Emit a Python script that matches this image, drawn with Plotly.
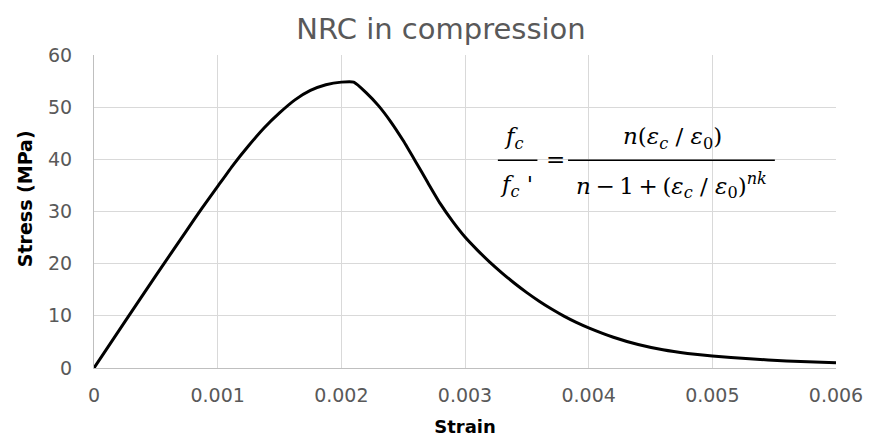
import plotly.graph_objects as go

# Data
strain = [0, 0.00025, 0.0005, 0.00075, 0.000875, 0.001, 0.001125, 0.00125, 0.001375,
          0.0015, 0.001625, 0.00175, 0.001875, 0.002, 0.0021, 0.0022, 0.0023,
          0.0024, 0.0025, 0.0026, 0.0027, 0.0028, 0.0029, 0.003, 0.0031, 0.0032,
          0.0033, 0.0034, 0.0035, 0.0036, 0.0037, 0.0038, 0.0039, 0.004, 0.0042,
          0.0044, 0.0046, 0.0048, 0.005, 0.0053, 0.0056, 0.006]
stress = [0, 8.9, 17.7, 26.4, 30.7, 34.8, 38.9, 42.6, 46.0,
          48.9, 51.4, 53.2, 54.3, 54.8, 54.8, 52.8, 50.3,
          47.2, 43.6, 39.6, 35.5, 31.5, 28.1, 25.1, 22.6, 20.3,
          18.2, 16.25, 14.45, 12.8, 11.3, 9.95, 8.75, 7.7, 5.9,
          4.5, 3.5, 2.8, 2.3, 1.75, 1.35, 1.0]

x_ticks = [0, 0.001, 0.002, 0.003, 0.004, 0.005, 0.006]
x_tick_labels = ["0", "0.001", "0.002", "0.003", "0.004", "0.005", "0.006"]
y_ticks = [0, 10, 20, 30, 40, 50, 60]

title_text = "NRC in compression"
x_title = "Strain"
y_title = "Stress (MPa)"

fig = go.Figure()
fig.add_trace(go.Scatter(
    x=strain, y=stress, mode="lines",
    line=dict(color="black", width=3, shape="spline", smoothing=0.4),
    hoverinfo="x+y", showlegend=False,
))

grid = "#d9d9d9"
FONT = "DejaVu Sans"
tick_font = dict(family=FONT, size=19, color="#595959")
fig.update_layout(
    width=875, height=446,
    margin=dict(l=94, r=32, t=55, b=78),
    paper_bgcolor="white", plot_bgcolor="white",
    title=dict(text=title_text, x=0.504, xref="container", xanchor="center",
               y=1 - 29 / 446, yref="container", yanchor="middle",
               font=dict(family=FONT, size=29, color="#595959")),
    xaxis=dict(range=[0, 0.006], tickvals=x_ticks, ticktext=x_tick_labels,
               showgrid=True, gridcolor=grid, gridwidth=1,
               showline=True, linecolor="#bfbfbf", linewidth=1, mirror=False,
               zeroline=False, tickfont=tick_font, ticks="", ticklabelstandoff=10,
               title=dict(text="<b>" + x_title + "</b>", standoff=15,
                          font=dict(family=FONT, size=18, color="black"))),
    yaxis=dict(range=[0, 60], tickvals=y_ticks,
               showgrid=True, gridcolor=grid, gridwidth=1,
               showline=True, linecolor="#bfbfbf", linewidth=1,
               zeroline=False, tickfont=tick_font, ticks="", ticklabelstandoff=17),
)

# y-axis title placed as a rotated annotation
fig.add_annotation(x=-0.0927, y=0.54, xref="paper", yref="paper",
                   text="<b>" + y_title + "</b>", textangle=-90, showarrow=False,
                   xanchor="center", yanchor="middle",
                   font=dict(family=FONT, size=19, color="black"))

# Formula (Popovics-type relation) drawn as text with fraction bars
ffont = dict(family="DejaVu Serif", size=23, color="black")
annots = [
    (0.566, 0.736, "<i>f</i><sub><i>c</i></sub>"),
    (0.569, 0.582, "<i>f</i><sub><i>c</i></sub> '"),
    (0.622, 0.668, "="),
    (0.780, 0.734, "<i>n</i>(<i>ε</i><sub><i>c</i></sub> / <i>ε</i><sub>0</sub>)"),
    (0.778, 0.582, "<i>n</i>\u2009−\u20091\u2009+\u2009(<i>ε</i><sub><i>c</i></sub> / <i>ε</i><sub>0</sub>)<sup><i>nk</i></sup>"),
]
for ax, ay, txt in annots:
    fig.add_annotation(x=ax, y=ay, xref="paper", yref="paper", text=txt,
                       showarrow=False, xanchor="center", yanchor="middle", font=ffont)
fig.add_shape(type="line", xref="paper", yref="paper", x0=0.5443, x1=0.5976, y0=0.6640, y1=0.6640,
              line=dict(color="black", width=1.5))
fig.add_shape(type="line", xref="paper", yref="paper", x0=0.6389, x1=0.9176, y0=0.6640, y1=0.6640,
              line=dict(color="black", width=1.5))

fig.write_html("out.html")
